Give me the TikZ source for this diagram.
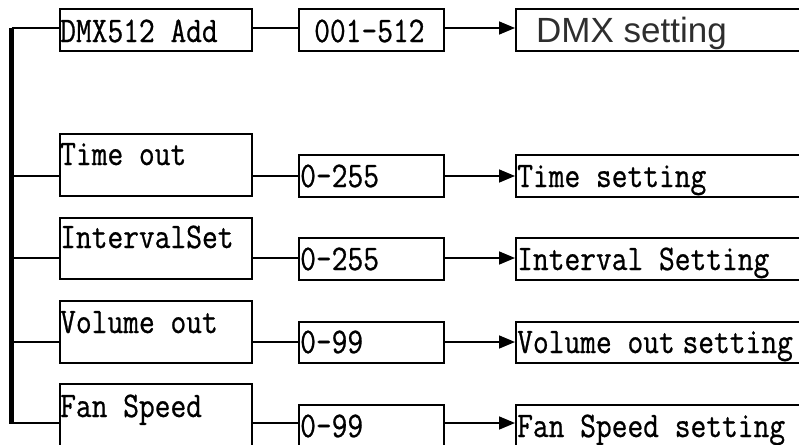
\documentclass[tikz,border=0pt]{standalone}
\usepackage{fontspec}
\newfontfamily\boxfont[FakeStretch=0.85,FakeBold=0.7]{Latin Modern Mono}
\newfontfamily\dmxfont{Liberation Sans}
\usetikzlibrary{arrows.meta}
\definecolor{dmxgray}{HTML}{2E2E2E}
\tikzset{
  box/.style={draw, line width=1.6pt, rectangle, inner sep=0pt, anchor=north west},
  lbox/.style={box, minimum width=192pt},
  mbox/.style={box, minimum width=145pt, minimum height=42pt},
  rbox/.style={box, minimum width=300pt, minimum height=42pt},
  txt/.style={font=\boxfont\fontsize{36}{36}\selectfont, anchor=base west, inner sep=0pt},
  conn/.style={line width=1.6pt},
  arr/.style={conn, -{Triangle[length=16pt,width=13pt]}},
  mainbar/.style={line width=4.5pt}
}
\begin{document}
\begin{tikzpicture}[x=1pt,y=-1pt]
\useasboundingbox (0,0) rectangle (799,444);
\clip (0,0) rectangle (799,444);
% boxes
\node[lbox, minimum height=42pt] (dmx) at (59,8) {};
\node[lbox, minimum height=62pt] (tout) at (59,133) {};
\node[lbox, minimum height=61pt] (intv) at (59,217) {};
\node[lbox, minimum height=62pt] (vol) at (59,300) {};
\node[lbox, minimum height=70pt] (fan) at (59,383) {};
\node[mbox] (r1) at (298,8) {};
\node[mbox] (r2) at (298,154) {};
\node[mbox] (r3) at (298,237) {};
\node[mbox, minimum height=41pt] (r4) at (298,321) {};
\node[mbox] (r5) at (298,404) {};
\node[rbox] (s1) at (515,8) {};
\node[rbox] (s2) at (515,154) {};
\node[rbox] (s3) at (515,237) {};
\node[rbox, minimum height=41pt] (s4) at (515,321) {};
\node[rbox] (s5) at (515,404) {};
% texts
\node[txt] (t1) at (60,42) {DMX512 Add};
\node[txt] (t2) at (60,165) {Time out};
\node[txt] (t3) at (60,248) {IntervalSet};
\node[txt] (t4) at (60,333) {Volume out};
\node[txt] (t5) at (60,417) {Fan Speed};
\node[txt] (v1) at (314,42) {001–512};
\node[txt] (v2) at (300,187) {0–255};
\node[txt] (v3) at (300,270) {0–255};
\node[txt] (v4) at (300,353) {0–99};
\node[txt] (v5) at (300,437) {0–99};
\node[font=\dmxfont\fontsize{35}{35}\selectfont, text=dmxgray, anchor=base west, inner sep=0pt] (d1) at (536,43) {DMX setting};
\node[txt] (d2) at (517,187) {Time setting};
\node[txt] (d3) at (517,270) {Interval Setting};
\node[txt] (d4) at (517,353) {Volume out\hspace{-8pt} setting};
\node[txt] (d5) at (517,437) {Fan Speed setting};
% bar and branches
\coordinate (h1) at (11.5,28);
\coordinate (h2) at (11.5,176);
\coordinate (h3) at (11.5,258);
\coordinate (h4) at (11.5,342);
\coordinate (h5) at (11.5,423);
\draw[mainbar] (h1) -- ([yshift=-1pt]h5);
\foreach \h/\a/\b/\c in {h1/dmx/r1/s1, h2/tout/r2/s2, h3/intv/r3/s3, h4/vol/r4/s4, h5/fan/r5/s5}{
  \draw[conn] (\h) -- (\h -| \a.west);
  \draw[conn] (\h -| \a.east) -- (\h -| \b.west);
  \draw[arr] (\h -| \b.east) -- (\h -| \c.west);
}
\end{tikzpicture}
\end{document}
